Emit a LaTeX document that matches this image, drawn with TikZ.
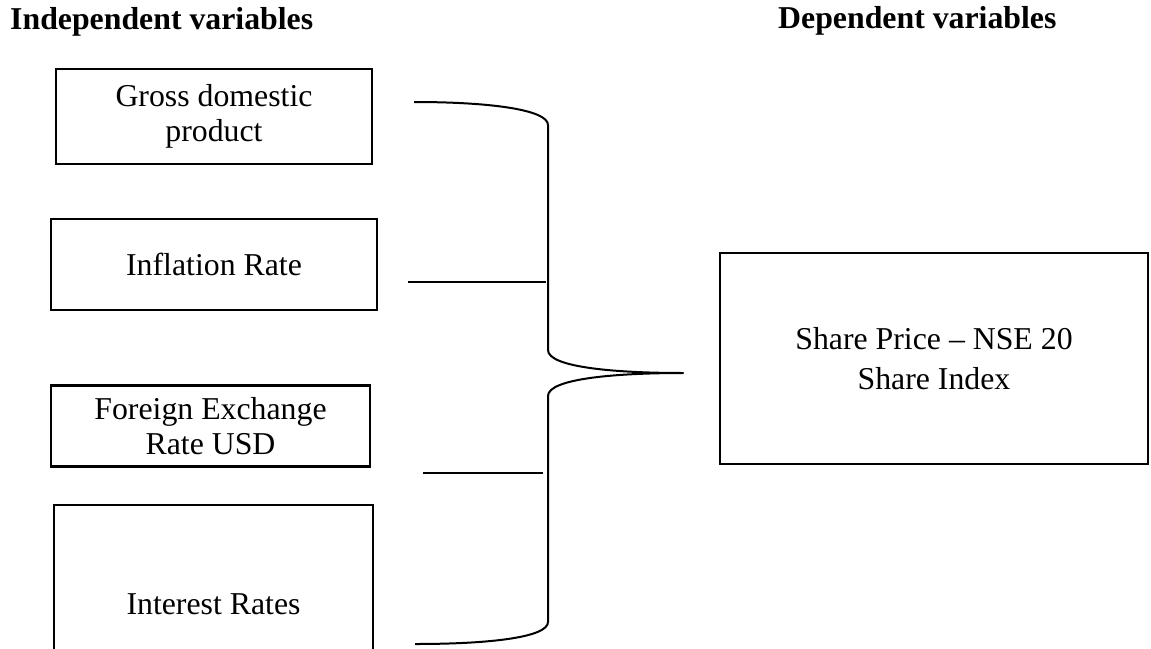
\documentclass[tikz,border=0pt]{standalone}
\usepackage{fontspec}
\setmainfont{Liberation Serif}
\begin{document}
\begin{tikzpicture}[x=1pt,y=-1pt,
  box/.style={draw, line width=2.4pt, inner sep=0pt, align=center,
    font=\fontsize{31.8}{35}\selectfont},
  head/.style={anchor=base west, inner sep=0pt, font=\fontsize{31.8}{36}\selectfont\bfseries},
  link/.style={line width=2pt},
  bracket/.style={line width=2pt, line join=round}]
\useasboundingbox (0,0) rectangle (1151,648);
\clip (0,0) rectangle (1151,648);
% headings
\node[head] (hind) at (10,29) {Independent variables};
\node[head] (hdep) at (778,28) {Dependent variables};
% boxes
\node[box, minimum width=316pt, minimum height=95pt] (gdp) at (214,116.5) {Gross domestic\\product};
\node[box, minimum width=326pt, minimum height=91pt] (infl) at (214,264.5) {Inflation Rate};
\node[box, minimum width=319pt, minimum height=81pt] (fx) at (210.5,426) {Foreign Exchange\\Rate USD};
\node[box, minimum width=319pt, minimum height=198pt] (int) at (213.5,604) {Interest Rates};
\node[box, minimum width=428pt, minimum height=211pt, font=\fontsize{31.8}{40}\selectfont] (share) at (934,358.5) {Share Price -- NSE 20\\Share Index};
% bracket end points
\coordinate (btop) at (414,102);
\coordinate (bbot) at (415,644);
\coordinate (tip) at (683,373);
\coordinate (l1a) at (408,282);
\coordinate (l1b) at (546,282);
\coordinate (l2a) at (423,473);
\coordinate (l2b) at (543,473);
% bracket
\draw[bracket] (btop) .. controls (492,102) and (548,110) .. (548,125)
  -- (548,350) .. controls (548,368) and (620,373) .. (tip)
  .. controls (620,373) and (548,378) .. (548,396)
  -- (548,622) .. controls (548,637) and (492,644) .. (bbot);
% connectors
\draw[link] (l1a) -- (l1b);
\draw[link] (l2a) -- (l2b);
\end{tikzpicture}
\end{document}
